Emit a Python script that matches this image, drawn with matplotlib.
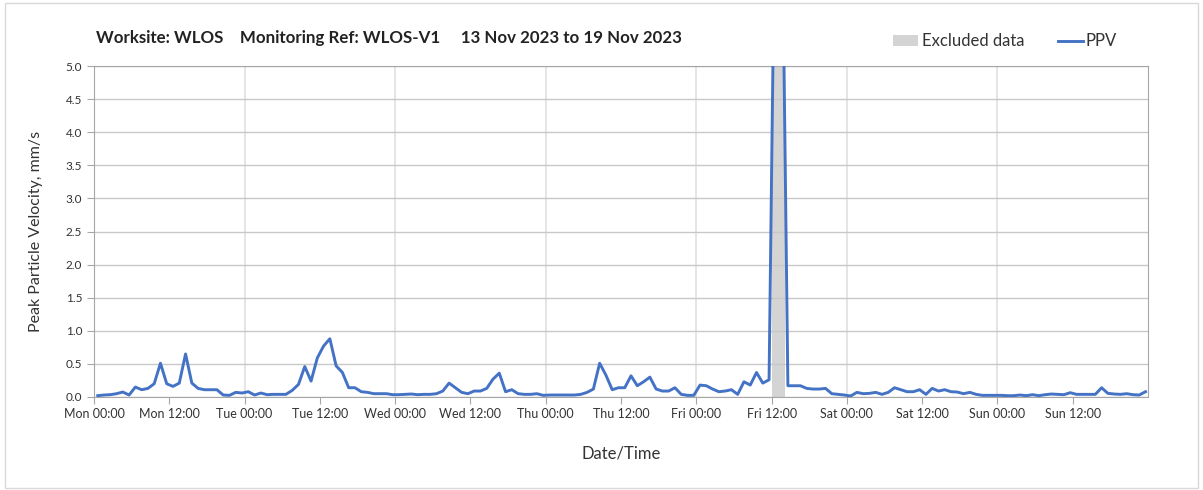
import matplotlib.pyplot as plt
import matplotlib.dates as mdates
import matplotlib.patches as mpatches
import pandas as pd

plt.rcParams['font.family'] = ['Lato', 'DejaVu Sans']

# Data (hourly PPV, mm/s)
ppv = [0.02, 0.03, 0.035, 0.05, 0.075, 0.03, 0.15, 0.11, 0.13, 0.2,
       0.51, 0.2, 0.16, 0.21, 0.65, 0.21, 0.13, 0.11, 0.11, 0.11,
       0.03, 0.025, 0.07, 0.06, 0.08, 0.03, 0.06, 0.035, 0.04, 0.04,
       0.04, 0.1, 0.19, 0.46, 0.24, 0.59, 0.77, 0.88, 0.47, 0.37,
       0.14, 0.14, 0.08, 0.07, 0.05, 0.05, 0.05, 0.035, 0.035, 0.04,
       0.045, 0.035, 0.04, 0.04, 0.05, 0.09, 0.21, 0.14, 0.07, 0.05,
       0.09, 0.09, 0.13, 0.27, 0.36, 0.08, 0.11, 0.05, 0.04, 0.04,
       0.05, 0.025, 0.03, 0.03, 0.03, 0.03, 0.03, 0.04, 0.07, 0.12,
       0.51, 0.33, 0.11, 0.14, 0.14, 0.32, 0.17, 0.23, 0.3, 0.12,
       0.09, 0.09, 0.14, 0.04, 0.025, 0.025, 0.18, 0.17, 0.12, 0.08,
       0.09, 0.11, 0.04, 0.23, 0.18, 0.37, 0.21, 0.26, 8.0, 8.0,
       0.17, 0.17, 0.17, 0.13, 0.12, 0.12, 0.13, 0.05, 0.04, 0.03,
       0.015, 0.07, 0.05, 0.055, 0.07, 0.04, 0.07, 0.14, 0.11, 0.08,
       0.08, 0.11, 0.04, 0.13, 0.09, 0.11, 0.08, 0.075, 0.05, 0.07,
       0.04, 0.025, 0.025, 0.025, 0.025, 0.02, 0.02, 0.03, 0.02, 0.035,
       0.02, 0.035, 0.045, 0.04, 0.035, 0.065, 0.04, 0.04, 0.04, 0.04,
       0.14, 0.055, 0.045, 0.04, 0.05, 0.035, 0.03, 0.08]
times = pd.date_range('2023-11-13 00:36', periods=len(ppv), freq='h')

excluded_start = pd.Timestamp('2023-11-17 12:05')
excluded_end = pd.Timestamp('2023-11-17 14:12')

week_start = pd.Timestamp('2023-11-13 00:00')
week_end = pd.Timestamp('2023-11-20 00:00')

fig = plt.figure(figsize=(12.03, 4.90), dpi=100)
ax = fig.add_axes([0.0781, 0.1898, 0.8762, 0.6755])

# light frame around whole chart
fig.patches.append(mpatches.Rectangle((0.004, 0.004), 0.992, 0.99, transform=fig.transFigure,
                                      fill=False, edgecolor='#d9d9d9', linewidth=1))

ax.axvspan(excluded_start, excluded_end, color='#d4d4d4', lw=0, label='Excluded data', zorder=1)
ax.plot(times, ppv, color='#4472C4', lw=2.1, label='PPV', zorder=3)

ax.set_xlim(week_start, week_end)
ax.set_ylim(0, 5)
ax.set_yticks([i * 0.5 for i in range(11)])
ax.yaxis.set_major_formatter(plt.FormatStrFormatter('%.1f'))

xticks = pd.date_range(week_start, periods=14, freq='12h')
ax.set_xticks(xticks)
ax.xaxis.set_major_formatter(mdates.DateFormatter('%a %H:%M'))

ax.grid(axis='y', color='#c8c8c8', lw=1)
for d in pd.date_range(week_start, periods=7, freq='D')[1:]:
    ax.axvline(d, color='#e0e0e0', lw=1.2, zorder=0)

for s in ax.spines.values():
    s.set_color('#a6a6a6')
ax.tick_params(axis='both', colors='#a6a6a6', length=5, labelcolor='#333333')
ax.tick_params(axis='x', labelsize=9, pad=3)
ax.tick_params(axis='y', labelsize=8.5)

ax.set_ylabel('Peak Particle Velocity, mm/s', fontsize=11.5, color='#333333', labelpad=16)
ax.set_xlabel('Date/Time', fontsize=12, color='#333333', labelpad=18)

fig.text(0.080, 0.913, 'Worksite: WLOS    Monitoring Ref: WLOS-V1     13 Nov 2023 to 19 Nov 2023',
         fontsize=12.2, fontweight='bold', color='#222222')

ax.legend(loc='lower right', bbox_to_anchor=(0.985, 1.005), ncol=2, frameon=False, fontsize=12,
          handlelength=1.5, columnspacing=2.0, handletextpad=0.2, labelcolor='#333333')

fig.savefig('out.png', dpi=100)
